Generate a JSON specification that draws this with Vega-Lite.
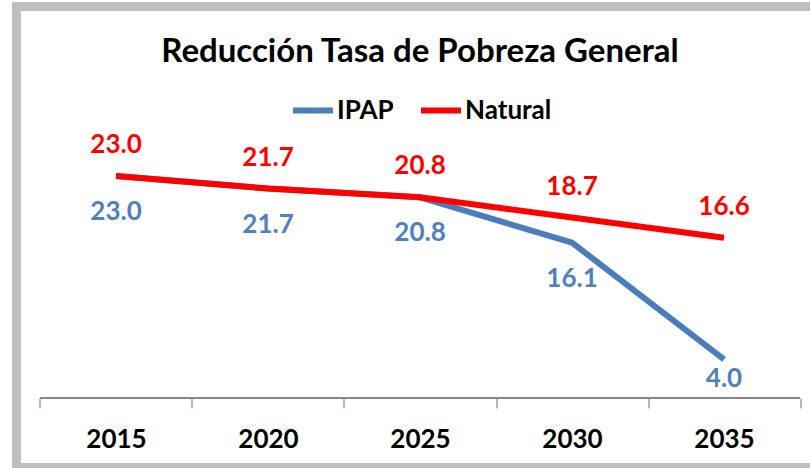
{
  "$schema": "https://vega.github.io/schema/vega-lite/v6.json",
  "autosize": {"type": "none"},
  "padding": {"left": 16.5, "top": 6.5, "right": 0, "bottom": 0},
  "width": 807,
  "height": 461,
  "background": "white",
  "config": {"view": {"stroke": "#BFBFBF", "strokeWidth": 9}, "font": "Lato"},
  "title": {"text": "Reducción Tasa de Pobreza General", "font": "Lato", "fontSize": 33, "fontWeight": "bold", "color": "#000000", "anchor": "middle", "orient": "top", "frame": "group", "offset": -62},
  "data": {"values": [
    {"year": 2015, "series": "IPAP", "value": 23.0},
    {"year": 2020, "series": "IPAP", "value": 21.7},
    {"year": 2025, "series": "IPAP", "value": 20.8},
    {"year": 2030, "series": "IPAP", "value": 16.1},
    {"year": 2035, "series": "IPAP", "value": 4.0},
    {"year": 2015, "series": "Natural", "value": 23.0},
    {"year": 2020, "series": "Natural", "value": 21.7},
    {"year": 2025, "series": "Natural", "value": 20.8},
    {"year": 2030, "series": "Natural", "value": 18.7},
    {"year": 2035, "series": "Natural", "value": 16.6}
  ]},
  "resolve": {"axis": {"x": "independent"}},
  "layer": [
    {
      "mark": {"type": "rule", "color": "#868686", "strokeWidth": 1.2},
      "encoding": {
        "x": {"datum": 2012.5, "type": "quantitative",
          "scale": {"domain": [2011.727, 2038.273], "nice": false, "zero": false},
          "axis": {"orient": "bottom", "values": [2012.5, 2017.5, 2022.5, 2027.5, 2032.5, 2037.5], "labels": false, "ticks": true, "tickSize": 10, "tickColor": "#868686", "tickWidth": 1.2, "domain": false, "grid": false, "title": null, "offset": -69.5}},
        "x2": {"datum": 2037.5},
        "y": {"datum": 0, "type": "quantitative", "scale": {"domain": [-7.2, 40.57], "nice": false, "zero": false}, "axis": null}
      }
    },
    {
      "mark": {"type": "line", "strokeWidth": 6, "strokeCap": "butt", "strokeJoin": "round"},
      "encoding": {
        "x": {"field": "year", "type": "quantitative",
          "axis": {"orient": "bottom", "values": [2015, 2020, 2025, 2030, 2035], "format": "d", "ticks": false, "domain": false, "grid": false, "title": null, "offset": -69.5, "labelFont": "Lato", "labelFontSize": 26, "labelFontWeight": "bold", "labelColor": "#000000", "labelPadding": 28}},
        "y": {"field": "value", "type": "quantitative", "axis": null},
        "color": {"field": "series", "type": "nominal",
          "scale": {"domain": ["IPAP", "Natural"], "range": ["#4A7EBB", "#FF0000"]},
          "legend": {"orient": "none", "legendX": 273.5, "legendY": 81, "direction": "horizontal", "title": null, "symbolType": "stroke", "symbolStrokeWidth": 6, "symbolSize": 1600, "labelFont": "Lato", "labelFontSize": 26, "labelFontWeight": "bold", "labelColor": "#000000", "labelOffset": 1, "columnPadding": 15}}
      }
    },
    {
      "transform": [{"filter": "datum.series == 'Natural'"}],
      "mark": {"type": "text", "dy": -31, "color": "#FF0000", "font": "Lato", "fontSize": 26, "fontWeight": "bold"},
      "encoding": {
        "x": {"field": "year", "type": "quantitative", "axis": null},
        "y": {"field": "value", "type": "quantitative", "axis": null},
        "text": {"field": "value", "type": "quantitative", "format": ".1f"}
      }
    },
    {
      "transform": [{"filter": "datum.series == 'IPAP' && datum.value >= 5"}],
      "mark": {"type": "text", "dy": 36, "color": "#4F81BD", "font": "Lato", "fontSize": 26, "fontWeight": "bold"},
      "encoding": {
        "x": {"field": "year", "type": "quantitative", "axis": null},
        "y": {"field": "value", "type": "quantitative", "axis": null},
        "text": {"field": "value", "type": "quantitative", "format": ".1f"}
      }
    },
    {
      "transform": [{"filter": "datum.series == 'IPAP' && datum.value < 5"}],
      "mark": {"type": "text", "dy": 20, "color": "#4F81BD", "font": "Lato", "fontSize": 26, "fontWeight": "bold"},
      "encoding": {
        "x": {"field": "year", "type": "quantitative", "axis": null},
        "y": {"field": "value", "type": "quantitative", "axis": null},
        "text": {"field": "value", "type": "quantitative", "format": ".1f"}
      }
    }
  ]
}
